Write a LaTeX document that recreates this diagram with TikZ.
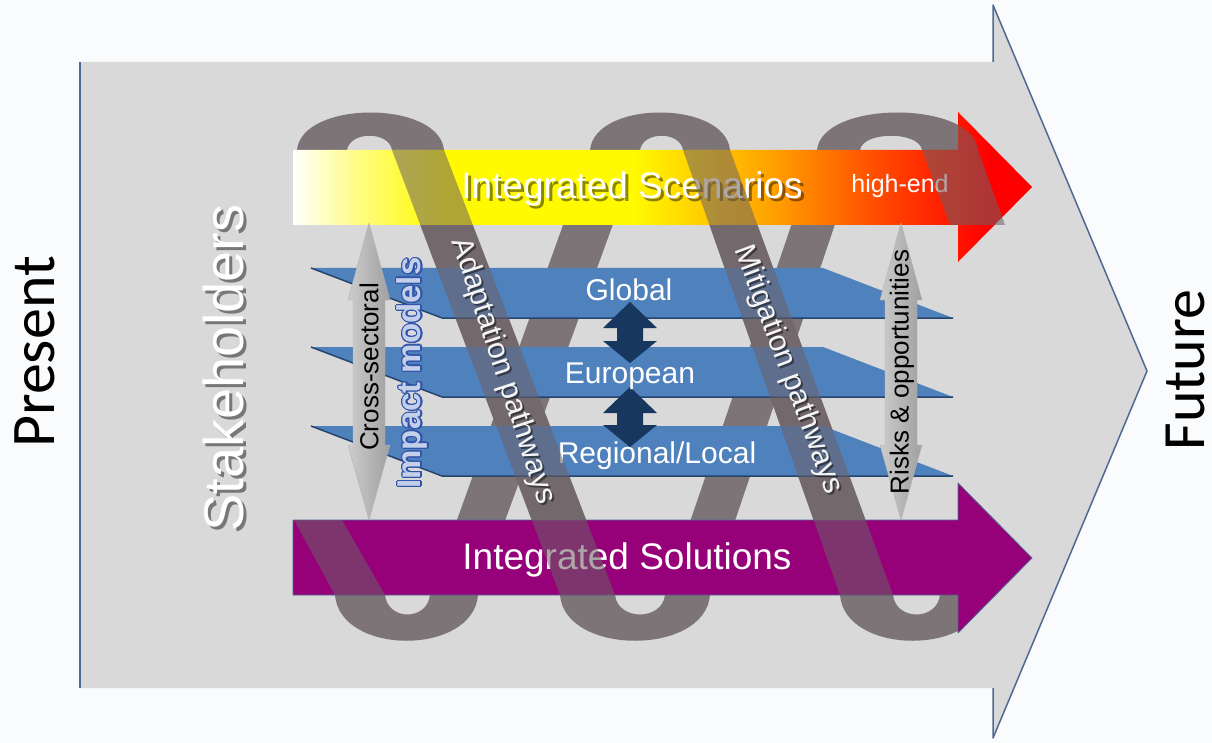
\documentclass[tikz,border=0pt]{standalone}
\usepackage{fontspec}
\setmainfont{Liberation Sans}
\newfontfamily\calfont{Carlito}
\usepackage[copies]{contour}
\contourlength{1.1pt}
\usetikzlibrary{calc}

\definecolor{bgpaper}{RGB}{250,251,253}
\definecolor{bigarrow}{RGB}{217,217,217}
\definecolor{bigedge}{RGB}{79,106,146}
\definecolor{ribcol}{RGB}{124,116,118}
\definecolor{ribfront}{RGB}{108,96,100}
\definecolor{planeblue}{RGB}{79,129,189}
\definecolor{planeedge}{RGB}{38,68,110}
\definecolor{navy}{RGB}{23,55,94}
\definecolor{solpurple}{RGB}{150,0,120}
\definecolor{impactblue}{RGB}{50,85,170}
\definecolor{impactfill}{RGB}{196,207,234}
\definecolor{scenyellow}{RGB}{255,250,0}
\definecolor{scenorange}{RGB}{255,165,0}
\definecolor{scenred}{RGB}{255,70,0}
\pgfdeclarehorizontalshading{scenshade}{100bp}{color(0bp)=(white); color(25bp)=(white);
  color(29bp)=(white!55!scenyellow); color(35bp)=(scenyellow); color(48bp)=(scenyellow);
  color(57bp)=(scenorange); color(65bp)=(scenred); color(72bp)=(red); color(100bp)=(red)}

\begin{document}
\begin{tikzpicture}[x=1pt, y=-1pt, line join=round,
    ribbon/.style = {fill=ribcol},
    frontrib/.style = {fill=ribfront, fill opacity=0.55},
    levelplane/.style = {fill=planeblue},
    rim/.style = {draw=planeedge, line width=1.5pt},
    updown/.style = {fill=navy},
    twoway/.style = {left color=gray!40, right color=gray!75, draw=gray!60, line width=0.4pt},
    lvl/.style = {text=white, font=\fontsize{30}{30}\selectfont},
    pathtxt/.style = {text=white!92!gray, font=\fontsize{30}{30}\selectfont},
    big/.style = {font=\fontsize{37}{37}\selectfont},
    txtshadow/.style = {text=black, opacity=0.45},
    endlabel/.style = {font=\calfont\fontsize{62}{62}\selectfont, rotate=90, inner sep=0pt},
    vlabel/.style = {font=\fontsize{26}{26}\selectfont, rotate=90}]

    \fill[bgpaper] (0,0) rectangle (1212,743);
    \useasboundingbox (0,0) rectangle (1212,743);

    \fill[bigarrow] (80,62) -- (993,62) -- (993,5) -- (1147,371) -- (993,738) -- (993,688) -- (80,688) -- cycle;
    \draw[bigedge, line width=1.5pt] (80,62) -- (80,688);
    \draw[bigedge, line width=1.5pt] (993,62) -- (993,5) -- (1147,371) -- (993,738) -- (993,688);

    % the spiral, back layer
    \foreach \a/\b/\c/\d in {297/347/392/444, 590/640/683/730, 817/860/922/978}
        \fill[ribbon] (\a,150) .. controls (\a+5,100) and (\d-5,100) .. (\d,150) -- (\c,150)
            .. controls (\c-3,131) and (\b+3,131) .. (\b,150) -- cycle;
    \begin{scope}
        \clip (0,0) rectangle (958,743);
        \foreach \a/\b/\c/\d in {335/385/430/478, 560/615/665/710, 840/893/940/985}
            \fill[ribbon] (\a,595) .. controls (\a+5,656) and (\d-5,656) .. (\d,595) -- (\c,595)
                .. controls (\c-3,621) and (\b+3,621) .. (\b,595) -- cycle;
    \end{scope}
    \fill[ribbon] (430,595) -- (478,595) -- (640,150) -- (590,150) -- cycle;
    \fill[ribbon] (665,595) -- (710,595) -- (860,150) -- (817,150) -- cycle;
    \fill[ribbon] (294,520) -- (342,520) -- (385,595) -- (335,595) -- cycle;
    \fill[ribbon] (392,150) -- (444,150) -- (615,595) -- (560,595) -- cycle;
    \fill[ribbon] (683,150) -- (730,150) -- (893,595) -- (840,595) -- cycle;

    \shade[shading=scenshade] (293,150) -- (958,150) -- (958,112) -- (1032,187) -- (958,262) -- (958,225) -- (293,225) -- cycle;
    \filldraw[fill=solpurple, draw=bigedge, line width=0.8pt] (293,520) -- (958,520) -- (958,483) -- (1032,558) -- (958,633) -- (958,595) -- (293,595) -- cycle;

    \foreach \y in {268,347,426} {
        \fill[levelplane] (311,\y) -- (823,\y) -- (953,\y+50) -- (442,\y+50) -- cycle;
        \draw[rim] (311,\y) -- (442,\y+50) -- (953,\y+50);
    }
    \foreach \t/\b in {302/363, 387/447}
        \fill[updown] (630,\t) -- (657,\t+26) -- (643,\t+26) -- (643,\b-22) -- (657,\b-22) -- (630,\b)
            -- (603,\b-22) -- (617,\b-22) -- (617,\t+26) -- (603,\t+26) -- cycle;
    \foreach \cx in {369,901}
        \shade[twoway] (\cx,223) -- (\cx+21,300) -- (\cx+16,300) -- (\cx+16,445) -- (\cx+21,445) -- (\cx,520)
            -- (\cx-21,445) -- (\cx-16,445) -- (\cx-16,300) -- (\cx-21,300) -- cycle;

    \node[big, txtshadow] (scenshadow) at (635,192) {Integrated Scenarios};
    \node[big, text=white] (scen) at (632,189) {Integrated Scenarios};
    \node[text=white, font=\fontsize{25}{25}\selectfont] (highend) at (900,186) {high-end};
    \node[big, text=white] (solut) at (627,560) {Integrated Solutions};
    \node[lvl] (global) at (629,290) {Global};
    \node[lvl] (europe) at (630,376) {European};
    \node[lvl] (regional) at (657,456) {Regional/Local};
    \node[vlabel] (cross) at (369,367) {Cross-sectoral};
    \node[vlabel] (risks) at (902,372) {Risks \& opportunities};
    \node[rotate=90, font=\bfseries\fontsize{33}{33}\selectfont] (impact) at (413,373)
        {\contour{impactblue}{\textcolor{impactfill}{Impact models}}};

    % the spiral, front layer
    \fill[frontrib] (294,520) -- (342,520) -- (385,595) -- (335,595) -- cycle;
    \fill[frontrib] (392,150) -- (444,150) -- (615,595) -- (560,595) -- cycle;
    \fill[frontrib] (683,150) -- (730,150) -- (893,595) -- (840,595) -- cycle;
    \fill[frontrib] (922,150) -- (978,150) -- (1005,225) -- (950,225) -- cycle;
    \begin{scope}
        \clip (958,100) rectangle (1040,150);
        \fill[frontrib] (817,150) .. controls (822,100) and (973,100) .. (978,150) -- (922,150)
            .. controls (919,131) and (863,131) .. (860,150) -- cycle;
    \end{scope}

    \node[pathtxt, txtshadow, rotate=-71.7] (adaptshadow) at (505,373) {Adaptation pathways};
    \node[pathtxt, rotate=-71.7] (adapt) at (503,371) {Adaptation pathways};
    \node[pathtxt, txtshadow, rotate=-69.4] (mitigshadow) at (790,372) {Mitigation pathways};
    \node[pathtxt, rotate=-69.4] (mitig) at (788,370) {Mitigation pathways};

    \node[endlabel] (present) at (35,352) {Present};
    \node[endlabel, font=\calfont\fontsize{60}{60}\selectfont] (future) at (1185,370) {Future};
    \node[rotate=90, txtshadow, font=\fontsize{56}{56}\selectfont] (stakeshadow) at (226,371) {Stakeholders};
    \node[rotate=90, text=white, font=\fontsize{56}{56}\selectfont] (stake) at (223,368) {Stakeholders};
\end{tikzpicture}
\end{document}
